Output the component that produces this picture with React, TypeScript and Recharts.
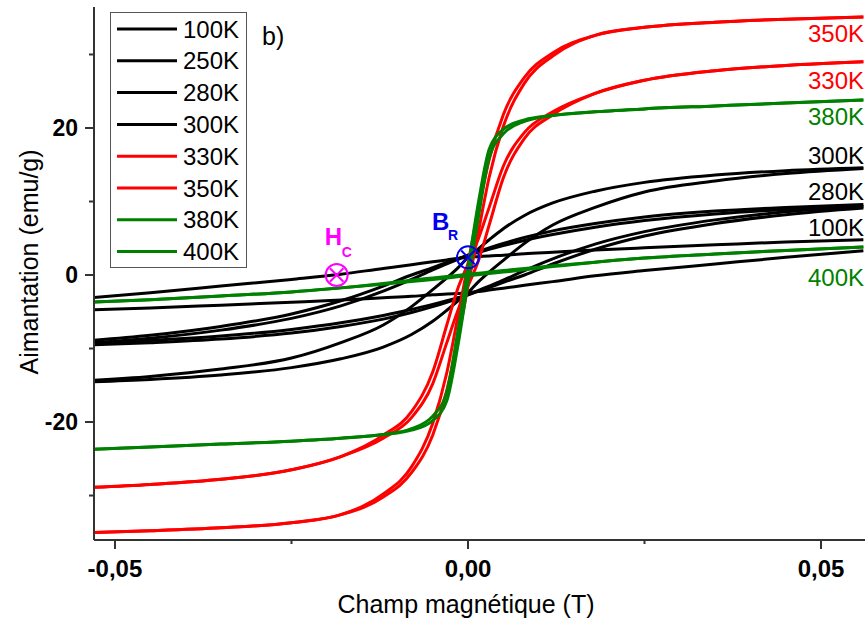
import React from 'react';
import { LineChart, Line, XAxis, YAxis, ReferenceDot, Customized } from 'recharts';

// Magnetic field (T) sampling grid of each branch
const FIELD_T = [-0.056, -0.045, -0.035, -0.025, -0.018, -0.012, -0.008, -0.005, -0.003, -0.0015, 0, 0.0015, 0.003, 0.005, 0.008, 0.012, 0.018, 0.025, 0.035, 0.045, 0.056];

// Magnetisation (emu/g): descending branch (down) and ascending branch (up)
const M100_DOWN = [-3.3, -2.4, -1.5, -0.6, 0.1, 0.9, 1.4, 1.8, 2.05, 2.25, 2.4, 2.5, 2.6, 2.7, 2.9, 3.1, 3.4, 3.7, 4.1, 4.5, 4.8];
const M100_UP = [-4.8, -4.5, -4.1, -3.7, -3.4, -3.1, -2.9, -2.7, -2.6, -2.5, -2.4, -2.25, -2.05, -1.8, -1.4, -0.9, -0.1, 0.6, 1.5, 2.4, 3.3];
const M250_DOWN = [-9.1, -8.2, -7.0, -5.3, -3.5, -1.5, 0.0, 1.0, 1.7, 2.2, 2.7, 3.1, 3.5, 4.0, 4.7, 5.5, 6.5, 7.4, 8.3, 8.9, 9.3];
const M250_UP = [-9.3, -8.9, -8.3, -7.4, -6.5, -5.5, -4.7, -4.0, -3.5, -3.1, -2.7, -2.2, -1.7, -1.0, 0.0, 1.5, 3.5, 5.3, 7.0, 8.2, 9.1];
const M280_DOWN = [-9.4, -8.6, -7.5, -5.9, -4.2, -2.2, -0.6, 0.7, 1.5, 2.1, 2.7, 3.2, 3.7, 4.3, 5.1, 6.0, 7.0, 7.9, 8.7, 9.2, 9.6];
const M280_UP = [-9.6, -9.2, -8.7, -7.9, -7.0, -6.0, -5.1, -4.3, -3.7, -3.2, -2.7, -2.1, -1.5, -0.7, 0.6, 2.2, 4.2, 5.9, 7.5, 8.6, 9.4];
const M300_DOWN = [-14.5, -13.8, -12.8, -11.3, -9.2, -6.8, -4.3, -2.0, -0.4, 0.9, 2.4, 3.6, 4.8, 6.3, 8.1, 9.8, 11.4, 12.6, 13.6, 14.2, 14.6];
const M300_UP = [-14.6, -14.2, -13.6, -12.6, -11.4, -9.8, -8.1, -6.3, -4.8, -3.6, -2.4, -0.9, 0.4, 2.0, 4.3, 6.8, 9.2, 11.3, 12.8, 13.8, 14.5];
const M330_DOWN = [-29.0, -28.5, -27.8, -26.5, -24.7, -21.8, -18.6, -13.2, -6.8, -2.0, 1.5, 5.0, 9.2, 14.8, 19.4, 22.2, 24.7, 26.5, 27.8, 28.5, 29.0];
const M330_UP = [-29.0, -28.5, -27.8, -26.5, -24.7, -22.2, -19.4, -14.8, -9.2, -5.0, -1.5, 2.0, 6.8, 13.2, 18.6, 21.8, 24.7, 26.5, 27.8, 28.5, 29.0];
const M350_DOWN = [-35.1, -34.8, -34.4, -33.7, -32.6, -29.8, -26.1, -20.2, -13.3, -6.0, 1.5, 9.0, 15.7, 21.8, 26.9, 30.2, 32.6, 33.7, 34.4, 34.8, 35.1];
const M350_UP = [-35.1, -34.8, -34.4, -33.7, -32.6, -30.2, -26.9, -21.8, -15.7, -9.0, -1.5, 6.0, 13.3, 20.2, 26.1, 29.8, 32.6, 33.7, 34.4, 34.8, 35.1];
const M380_DOWN = [-23.8, -23.4, -23.0, -22.6, -22.2, -21.7, -20.9, -19.2, -15.9, -8.0, 1.0, 10.0, 17.1, 19.8, 21.1, 21.7, 22.2, 22.6, 23.0, 23.4, 23.8];
const M380_UP = [-23.8, -23.4, -23.0, -22.6, -22.2, -21.7, -21.1, -19.8, -17.1, -10.0, -1.0, 8.0, 15.9, 19.2, 20.9, 21.7, 22.2, 22.6, 23.0, 23.4, 23.8];
const M400_DOWN = [-3.8, -3.35, -2.85, -2.3, -1.75, -1.15, -0.7, -0.4, -0.2, -0.05, 0.1, 0.25, 0.4, 0.6, 0.9, 1.25, 1.75, 2.3, 2.85, 3.35, 3.8];
const M400_UP = [-3.8, -3.35, -2.85, -2.3, -1.75, -1.25, -0.9, -0.6, -0.4, -0.25, -0.1, 0.05, 0.2, 0.4, 0.7, 1.15, 1.75, 2.3, 2.85, 3.35, 3.8];

const BLACK = '#000000';
const RED = '#ff0000';
const GREEN = '#008000';

const SERIES = [
  { name: '100K', color: BLACK, down: M100_DOWN, up: M100_UP },
  { name: '250K', color: BLACK, down: M250_DOWN, up: M250_UP },
  { name: '280K', color: BLACK, down: M280_DOWN, up: M280_UP },
  { name: '300K', color: BLACK, down: M300_DOWN, up: M300_UP },
  { name: '330K', color: RED, down: M330_DOWN, up: M330_UP },
  { name: '350K', color: RED, down: M350_DOWN, up: M350_UP },
  { name: '380K', color: GREEN, down: M380_DOWN, up: M380_UP },
  { name: '400K', color: GREEN, down: M400_DOWN, up: M400_UP },
];

// Curve-end labels (value = vertical position in emu/g)
const END_LABEL_TEXT = ['350K', '330K', '380K', '300K', '280K', '100K', '400K'];
const END_LABEL_COLOR = [RED, RED, GREEN, BLACK, BLACK, BLACK, GREEN];
const END_LABEL_Y = [32.9, 26.5, 21.5, 16.2, 11.3, 6.5, -0.3];

// Markers: coercive field and remanence
const MARKERS = [
  { main: 'H', sub: 'C', x: -0.0186, y: 0, color: '#ff00ff', dx: -12, dy: -30, sdx: 5, sdy: -18 },
  { main: 'B', sub: 'R', x: 0, y: 2.4, color: '#0000ee', dx: -36, dy: -27, sdx: -20, sdy: -17 },
];

const X_MIN = -0.05297;
const X_MAX = 0.05623;
const Y_MIN = -36.05;
const Y_MAX = 36.46;
const X_TICKS = [-0.05, -0.025, 0, 0.025, 0.05];
const X_TICK_LABELS = ['-0,05', '', '0,00', '', '0,05'];
const Y_TICKS = [-30, -20, -10, 0, 10, 20, 30];
const Y_TICK_LABELS = ['', '-20', '', '0', '', '20', ''];

const FONT = '"Liberation Sans", Arial, sans-serif';
const AXIS_COLOR = '#333333';

function branch(values: number[]) {
  return FIELD_T.map((x, i) => ({ x, y: values[i] }));
}

function XTick(props: any) {
  const { x, y, payload } = props;
  const idx = X_TICKS.indexOf(payload.value);
  const label = X_TICK_LABELS[idx] || '';
  const len = label ? 9 : 4;
  return (
    <g>
      <line x1={x} x2={x} y1={y} y2={y + len} stroke={AXIS_COLOR} strokeWidth={2} />
      {label && (
        <text x={x} y={y + 37} textAnchor="middle" fontFamily={FONT} fontWeight="bold" fontSize={24} fill="#000">
          {label}
        </text>
      )}
    </g>
  );
}

function YTick(props: any) {
  const { x, y, payload } = props;
  const idx = Y_TICKS.indexOf(payload.value);
  const label = Y_TICK_LABELS[idx] || '';
  const len = label ? 9 : 5;
  return (
    <g>
      <line x1={x - len} x2={x} y1={y} y2={y} stroke={AXIS_COLOR} strokeWidth={2} />
      {label && (
        <text x={x - 16} y={y + 8} textAnchor="end" fontFamily={FONT} fontWeight="bold" fontSize={23} fill="#000">
          {label}
        </text>
      )}
    </g>
  );
}

function Overlay() {
  const rowStep = 31.8;
  return (
    <g>
      <rect x={110.5} y={12.5} width={136} height={255} fill="#ffffff" stroke="#555555" strokeWidth={1} />
      {SERIES.map((s, i) => {
        const cy = 29 + i * rowStep;
        return (
          <g key={s.name}>
            <line x1={117} x2={177} y1={cy} y2={cy} stroke={s.color} strokeWidth={3} />
            <text x={183} y={cy + 8.5} fontFamily={FONT} fontSize={24} fill="#000">
              {s.name}
            </text>
          </g>
        );
      })}
      <text x={262} y={45} fontFamily={FONT} fontSize={25} fill="#000">b)</text>
      <text x={466} y={613} textAnchor="middle" fontFamily={FONT} fontSize={25} fill="#000">
        Champ magnétique (T)
      </text>
      <text transform="translate(38,262) rotate(-90)" textAnchor="middle" fontFamily={FONT} fontSize={25} fill="#000">
        Aimantation (emu/g)
      </text>
    </g>
  );
}

function markerShape(m: typeof MARKERS[number]) {
  return (props: any) => {
    const { cx, cy } = props;
    const r = 11;
    const d = r * 0.62;
    return (
      <g>
        <circle cx={cx} cy={cy} r={r} fill="none" stroke={m.color} strokeWidth={2} />
        <line x1={cx - d} y1={cy - d} x2={cx + d} y2={cy + d} stroke={m.color} strokeWidth={2} />
        <line x1={cx - d} y1={cy + d} x2={cx + d} y2={cy - d} stroke={m.color} strokeWidth={2} />
        <text x={cx + m.dx} y={cy + m.dy} fontFamily={FONT} fontWeight="bold" fontSize={24} fill={m.color}>
          {m.main}
        </text>
        <text x={cx + m.sdx} y={cy + m.sdy} fontFamily={FONT} fontWeight="bold" fontSize={14} fill={m.color}>
          {m.sub}
        </text>
      </g>
    );
  };
}

function endLabelShape(text: string, color: string) {
  return (props: any) => {
    const { cx, cy } = props;
    return (
      <text x={cx - 1} y={cy + 8.5} textAnchor="end" fontFamily={FONT} fontSize={24} fill={color}>
        {text}
      </text>
    );
  };
}

export default function App() {
  return (
    <div style={{ position: 'absolute', left: 0, top: 0, width: 865, height: 618, overflow: 'hidden', background: '#fff' }}>
      <LineChart width={865} height={618} margin={{ top: 7, right: 0, bottom: 0, left: 0 }}>
        <XAxis
          dataKey="x"
          type="number"
          domain={[X_MIN, X_MAX]}
          ticks={X_TICKS}
          interval={0}
          tick={<XTick />}
          tickLine={false}
          tickSize={0}
          tickMargin={0}
          height={78}
          axisLine={{ stroke: AXIS_COLOR, strokeWidth: 2 }}
          allowDataOverflow
        />
        <XAxis
          xAxisId="top"
          orientation="top"
          type="number"
          domain={[X_MIN, X_MAX]}
          height={0}
          tick={false}
          tickLine={false}
          axisLine={{ stroke: AXIS_COLOR, strokeWidth: 2 }}
          allowDataOverflow
        />
        <YAxis
          type="number"
          domain={[Y_MIN, Y_MAX]}
          ticks={Y_TICKS}
          interval={0}
          width={94}
          tick={<YTick />}
          tickLine={false}
          tickSize={0}
          tickMargin={0}
          axisLine={{ stroke: AXIS_COLOR, strokeWidth: 2 }}
          allowDataOverflow
        />
        {SERIES.flatMap((s) => [
          <Line
            key={s.name + '-down'}
            data={branch(s.down)}
            dataKey="y"
            type="monotone"
            stroke={s.color}
            strokeWidth={3}
            dot={false}
            activeDot={false}
            isAnimationActive={false}
          />,
          <Line
            key={s.name + '-up'}
            data={branch(s.up)}
            dataKey="y"
            type="monotone"
            stroke={s.color}
            strokeWidth={3}
            dot={false}
            activeDot={false}
            isAnimationActive={false}
          />,
        ])}
        {END_LABEL_TEXT.map((t, i) => (
          <ReferenceDot
            key={t}
            x={X_MAX}
            y={END_LABEL_Y[i]}
            r={0}
            ifOverflow="visible"
            shape={endLabelShape(t, END_LABEL_COLOR[i])}
          />
        ))}
        {MARKERS.map((m) => (
          <ReferenceDot key={m.main} x={m.x} y={m.y} r={11} ifOverflow="visible" shape={markerShape(m)} />
        ))}
        <Customized component={<Overlay />} />
      </LineChart>
    </div>
  );
}
